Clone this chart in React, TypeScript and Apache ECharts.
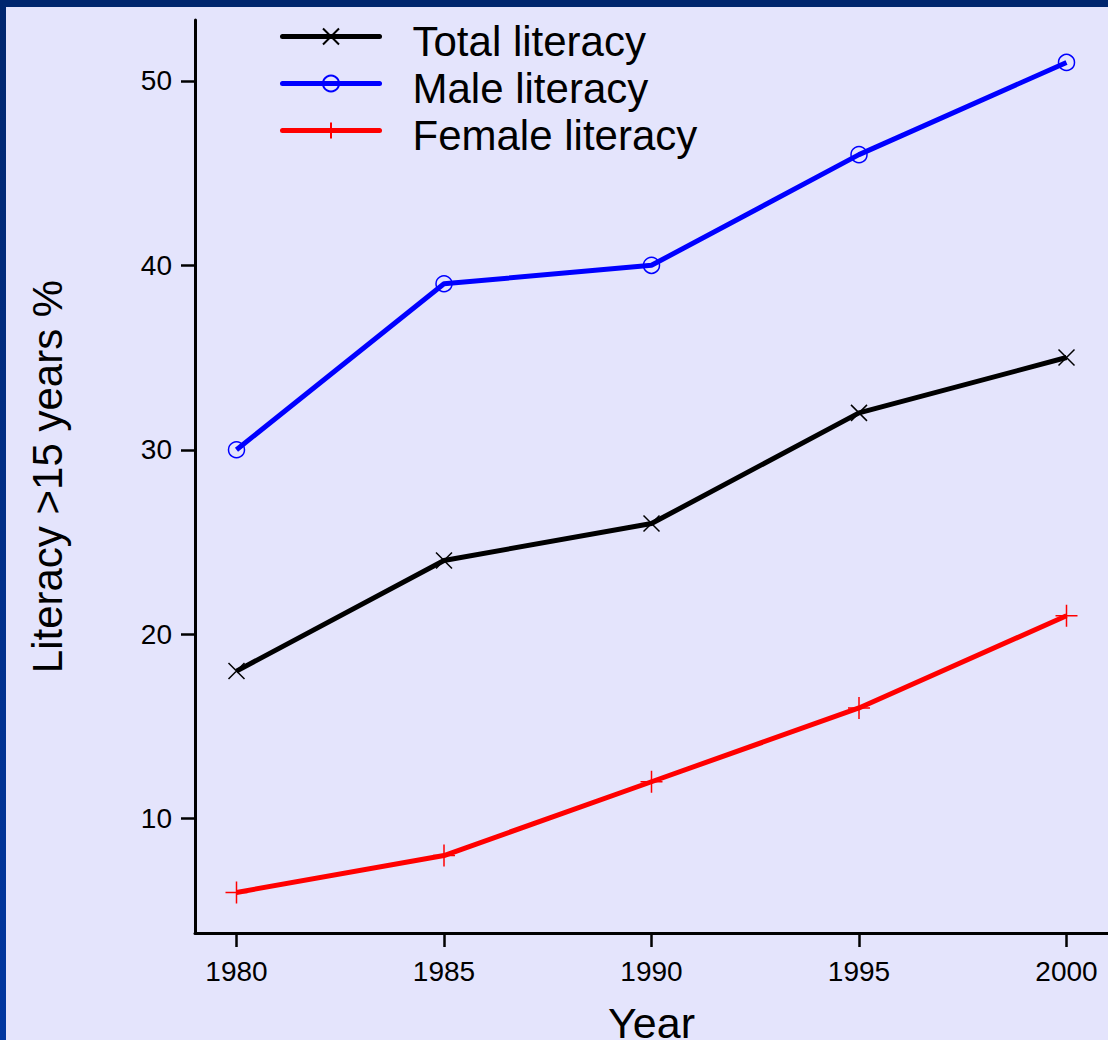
import React, { useEffect, useRef } from 'react';
import * as echarts from 'echarts';

const years = [1980, 1985, 1990, 1995, 2000];
const totalLiteracy = [18, 24, 26, 32, 35];
const maleLiteracy = [30, 39, 40, 46, 51];
const femaleLiteracy = [6, 8, 12, 16, 21];
const xTicks = [1980, 1985, 1990, 1995, 2000];
const yTicks = [10, 20, 30, 40, 50];
const seriesNames = ['Total literacy', 'Male literacy', 'Female literacy'];
const xTitle = 'Year';
const yTitle = 'Literacy >15 years %';

const FONT = '"Liberation Sans", Arial, sans-serif';

export default function App() {
  const ref = useRef<HTMLDivElement>(null);
  useEffect(() => {
    if (!ref.current) return;
    const chart = echarts.init(ref.current, undefined, { renderer: 'svg' });
    const pts = (vals: number[]) => years.map((y, i) => [y, vals[i]]);
    const mk = (name: string, vals: number[], color: string, symbol: string, size: number) => ({
      name,
      type: 'line',
      data: pts(vals),
      symbol,
      symbolSize: size,
      showSymbol: true,
      lineStyle: { color, width: 5 },
      itemStyle: { color: 'transparent', borderColor: color, borderWidth: 1.5 },
      emphasis: { disabled: true },
      z: 3,
    });
    const axisCommon = {
      axisLine: { show: true, onZero: false, lineStyle: { color: '#000', width: 3 } },
      splitLine: { show: false },
    };
    chart.setOption({
      animation: false,
      backgroundColor: '#E4E4FC',
      textStyle: { fontFamily: FONT },
      grid: {
        left: 195,
        width: 913,
        top: 20,
        height: 913,
        containLabel: false,
        outerBoundsMode: 'none',
      },
      legend: {
        orient: 'vertical',
        left: 280,
        top: 15.5,
        padding: 0,
        itemGap: 0,
        itemWidth: 97,
        itemHeight: 20,
        data: seriesNames,
        selectedMode: false,
        lineStyle: { width: 5, cap: 'round' },
        formatter: (name: string) => '{pad| }\n' + name,
        textStyle: {
          fontSize: 42,
          color: '#000',
          fontFamily: FONT,
          lineHeight: 32,
          padding: [0, 0, 0, 28],
          rich: {
            pad: { fontSize: 2, lineHeight: 10, height: 10 },
          },
        },
      },
      xAxis: {
        type: 'value',
        min: 1979,
        max: 2001,
        ...axisCommon,
        axisTick: {
          show: true,
          length: 14,
          customValues: xTicks,
          lineStyle: { color: '#000', width: 2.5 },
        },
        axisLabel: {
          customValues: xTicks,
          fontSize: 28,
          color: '#000',
          margin: 24,
          fontFamily: FONT,
          formatter: (v: number) => String(v),
        },
        name: xTitle,
        nameLocation: 'middle',
        nameGap: 68,
        nameTextStyle: { fontSize: 43, color: '#000', fontFamily: FONT },
      },
      yAxis: {
        type: 'value',
        min: 3.8,
        max: 53.3,
        ...axisCommon,
        axisTick: {
          show: true,
          length: 14,
          customValues: yTicks,
          lineStyle: { color: '#000', width: 2.5 },
        },
        axisLabel: {
          customValues: yTicks,
          fontSize: 28,
          color: '#000',
          margin: 23,
          fontFamily: FONT,
          formatter: (v: number) => String(v),
        },
        name: yTitle,
        nameLocation: 'middle',
        nameRotate: 90,
        nameGap: 127,
        nameTextStyle: { fontSize: 42, color: '#000', fontFamily: FONT },
      },
      series: [
        mk(seriesNames[0], totalLiteracy, '#000000', 'path://M0,0L10,10M10,0L0,10', 16),
        mk(seriesNames[1], maleLiteracy, '#0000FF', 'circle', 16),
        mk(seriesNames[2], femaleLiteracy, '#FF0000', 'path://M5,0L5,10M0,5L10,5', 22),
      ],
      graphic: [
        {
          type: 'rect',
          left: 0,
          top: 0,
          shape: { width: 1108, height: 7 },
          style: { fill: '#00266E' },
          z: 100,
        },
        {
          type: 'rect',
          left: 0,
          top: 0,
          shape: { width: 6, height: 1040 },
          style: {
            fill: new echarts.graphic.LinearGradient(0, 0, 0, 1, [
              { offset: 0, color: '#00266E' },
              { offset: 1, color: '#0036A0' },
            ]),
          },
          z: 100,
        },
      ],
    });
    return () => chart.dispose();
  }, []);
  return (
    <div
      ref={ref}
      style={{ position: 'absolute', left: 0, top: 0, width: 1108, height: 1040 }}
    />
  );
}
